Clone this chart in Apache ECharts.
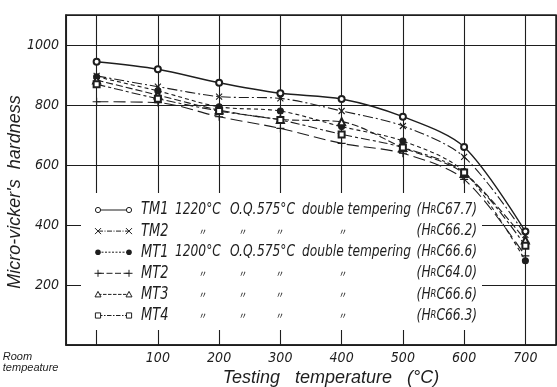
<!DOCTYPE html>
<html><head><meta charset="utf-8">
<script src="https://cdn.jsdelivr.net/npm/echarts@6/dist/echarts.min.js"></script>
<style>html,body{margin:0;padding:0;background:#fff}#c{width:557px;height:387px}</style>
</head><body><div id="c"></div><script>
// ---- data ----
const temps = [0, 100, 200, 300, 400, 500, 600, 700];
const roomTempLabel = 'Room\ntempeature';
const seriesNames = ['TM1', 'TM2', 'MT1', 'MT2', 'MT3', 'MT4'];
const TM1 = [944, 919, 874, 839, 820, 761, 660, 378];
const TM2 = [897, 861, 828, 822, 780, 730, 627, 367];
const MT1 = [894, 847, 794, 780, 728, 680, 578, 281];
const MT2 = [811, 808, 761, 722, 672, 639, 552, 297];
const MT3 = [883, 833, 783, 752, 744, 658, 572, 350];
const MT4 = [869, 821, 780, 750, 702, 658, 575, 331];
const yTicks = [200, 400, 600, 800, 1000];
const treatTM = ['1220°C', 'O.Q.', '575°C', 'double tempering'];
const treatMT = ['1200°C', 'O.Q.', '575°C', 'double tempering'];
const ditto = ['〃', '〃', '〃', '〃'];
const hrcValues = ['67.7', '66.2', '66.6', '64.0', '66.6', '66.3'];

// ---- styles ----
const FONT = "'DejaVu Sans Condensed','Liberation Sans',sans-serif";
const WFONT = "'Liberation Sans','DejaVu Sans',sans-serif";
const INK = '#1e1e1e';
const allValues = [TM1, TM2, MT1, MT2, MT3, MT4];
const treatments = [treatTM, ditto, treatMT, ditto, ditto, ditto];
const styles = [
  {sym: 'emptyCircle', size: 6, dash: 'solid', leg: 'circle', w: 1.4},
  {sym: 'path://M0,0L10,10M10,0L0,10', size: 6, dash: [10, 3, 2, 3], leg: 'x', w: 1.1},
  {sym: 'circle', size: 6, dash: [4, 3], leg: 'dot', w: 1.1},
  {sym: 'path://M5,0L5,10M0,5L10,5', size: 8, dash: [12, 5], leg: 'plus', w: 1.1},
  {sym: 'emptyTriangle', size: 7, dash: [7, 3], leg: 'tri', w: 1.1},
  {sym: 'emptyRect', size: 6, dash: [9, 3, 3, 3], leg: 'rect', w: 1.1}
];

const chart = echarts.init(document.getElementById('c'), null, {renderer: 'canvas'});

const series = seriesNames.map((n, i) => ({
  name: n,
  type: 'line',
  smooth: 0.3,
  data: temps.map((t, j) => [t, allValues[i][j]]),
  symbol: styles[i].sym,
  symbolSize: styles[i].size,
  lineStyle: {color: INK, width: styles[i].w, type: styles[i].dash},
  itemStyle: {color: INK, borderColor: INK, borderWidth: 1.1},
  z: 3
}));

const SX = 0.85;
function legText(text, font, x, y, align) {
  return {type: 'text', x: x, y: y, scaleX: SX, z: 3,
    style: {text: text, font: font, fill: INK, verticalAlign: 'middle', align: align || 'left'}};
}

function legendSym(type, cx, cy) {
  const st = {stroke: INK, lineWidth: 1, fill: '#fff'};
  const ln = {stroke: INK, lineWidth: 1};
  switch (type) {
    case 'circle': return [{type: 'circle', shape: {cx, cy, r: 2.6}, style: st}];
    case 'dot': return [{type: 'circle', shape: {cx, cy, r: 2.8}, style: {fill: INK}}];
    case 'x': return [
      {type: 'line', shape: {x1: cx - 3, y1: cy - 3, x2: cx + 3, y2: cy + 3}, style: ln},
      {type: 'line', shape: {x1: cx - 3, y1: cy + 3, x2: cx + 3, y2: cy - 3}, style: ln}];
    case 'plus': return [
      {type: 'line', shape: {x1: cx - 3.5, y1: cy, x2: cx + 3.5, y2: cy}, style: ln},
      {type: 'line', shape: {x1: cx, y1: cy - 3.5, x2: cx, y2: cy + 3.5}, style: ln}];
    case 'tri': return [{type: 'polygon', shape: {points: [[cx, cy - 3], [cx + 3, cy + 2.5], [cx - 3, cy + 2.5]]}, style: st}];
    case 'rect': return [{type: 'rect', shape: {x: cx - 2.6, y: cy - 2.6, width: 5.2, height: 5.2}, style: st}];
  }
}

const legendEls = [];
legendEls.push({type: 'rect', shape: {x: 81, y: 193, width: 401, height: 137}, style: {fill: '#fff'}, z: 1});
const rowY0 = 210, rowStep = 21.1;
const colX = [175, 230, 257, 302];
const dittoX = [203, 243, 280, 343];
const mainF = 'italic 16px ' + FONT;
const smallF = 'italic 11px ' + FONT;
seriesNames.forEach((n, i) => {
  const y = rowY0 + i * rowStep;
  const d = styles[i].dash;
  legendEls.push({type: 'line', shape: {x1: 98, y1: y, x2: 129, y2: y},
    style: {stroke: INK, lineWidth: 1, lineDash: d === 'solid' ? null : d.map(v => v * 0.5)}, z: 2});
  legendSym(styles[i].leg, 98, y).concat(legendSym(styles[i].leg, 129, y)).forEach(el => {
    el.z = 3; legendEls.push(el);
  });
  legendEls.push(legText(n, 'italic 17px ' + FONT, 141, y));
  treatments[i].forEach((t, k) => {
    if (t === '〃') {
      legendEls.push({type: 'text', x: dittoX[k], y: y, z: 3,
        style: {text: t, font: "9px 'Noto Sans CJK JP',sans-serif", fill: INK, verticalAlign: 'middle', align: 'center'}});
    } else {
      legendEls.push(legText(t, mainF, colX[k], y));
    }
  });
  const hrc = legText('(H{s|R}C' + hrcValues[i] + ')', mainF, 477, y, 'right');
  hrc.style.rich = {s: {font: smallF, fill: INK}};
  legendEls.push(hrc);
});

chart.setOption({
  backgroundColor: '#fff',
  animation: false,
  grid: {left: 66, right: 1, top: 15, bottom: 42, containLabel: false, outerBoundsMode: 'none',
    show: true, borderColor: INK, borderWidth: 1.5, backgroundColor: 'transparent'},
  xAxis: {
    type: 'value', min: -50, max: 750, splitNumber: 8,
    name: 'Testing   temperature   (°C)', nameLocation: 'middle', nameGap: 24, nameMoveOverlap: false,
    nameTextStyle: {fontFamily: WFONT, fontStyle: 'italic', fontSize: 18, color: INK, padding: [0, 0, 0, 40]},
    axisLine: {show: true, onZero: false, lineStyle: {color: INK, width: 1.5}},
    axisTick: {show: false},
    splitLine: {show: true, lineStyle: {color: INK, width: 1.1}},
    axisLabel: {
      showMinLabel: false, showMaxLabel: false, margin: 6,
      fontFamily: FONT, fontStyle: 'italic', fontSize: 14, color: INK,
      formatter: v => (v === 0 ? '{rt|' + roomTempLabel + '}' : (temps.indexOf(v) >= 0 ? String(v) : '')),
      rich: {rt: {fontFamily: WFONT, fontStyle: 'italic', fontSize: 11, lineHeight: 11, color: INK, padding: [0, 132, 0, 0], align: 'left'}}
    }
  },
  yAxis: {
    type: 'value', min: 0, max: 1100, interval: 200,
    name: "Micro-vicker's  hardness", nameLocation: 'middle', nameGap: 42, nameMoveOverlap: false,
    nameTextStyle: {fontFamily: WFONT, fontStyle: 'italic', fontSize: 18, color: INK, padding: [0, 24, 0, 0]},
    axisLine: {show: true, onZero: false, lineStyle: {color: INK, width: 1.5}},
    axisTick: {show: false},
    splitLine: {show: true, lineStyle: {color: INK, width: 1.1}},
    axisLabel: {
      showMaxLabel: false, margin: 7,
      fontFamily: FONT, fontStyle: 'italic', fontSize: 14, color: INK,
      formatter: v => (yTicks.indexOf(v) >= 0 ? String(v) : '')
    }
  },
  graphic: legendEls,
  series: series
});
</script></body></html>
